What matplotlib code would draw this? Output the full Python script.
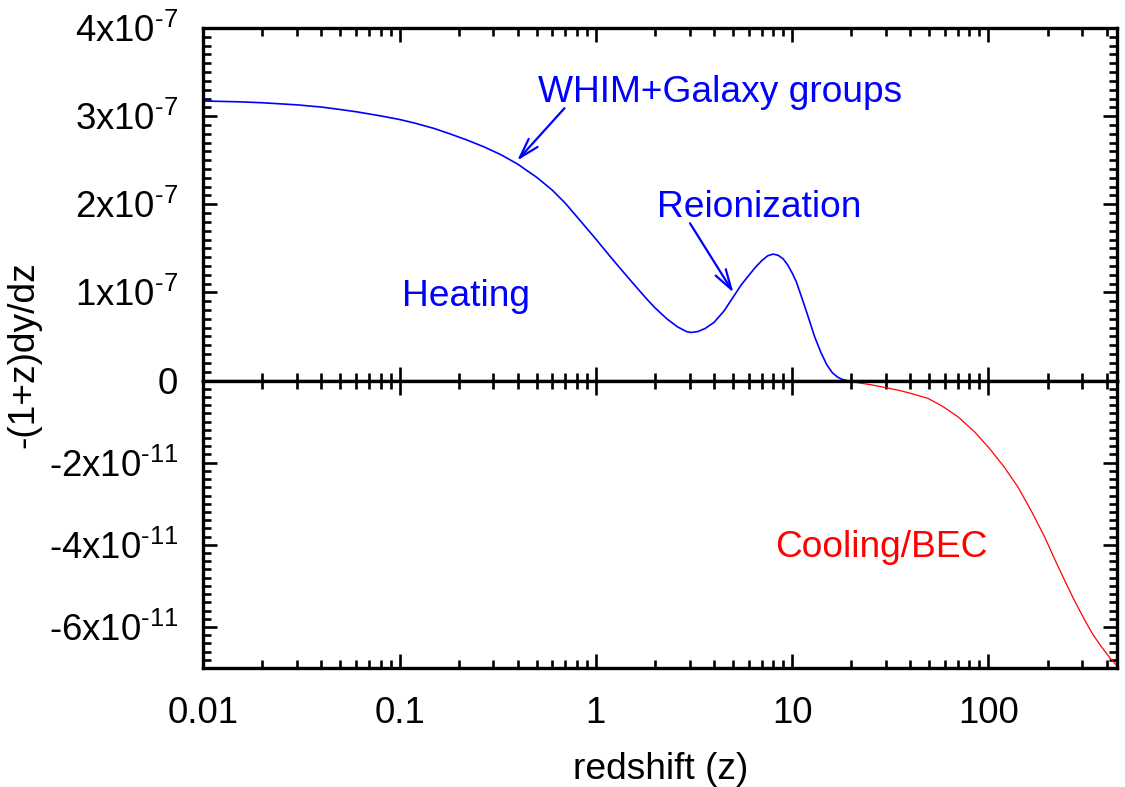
import matplotlib
matplotlib.use("Agg")
import matplotlib.pyplot as plt
from matplotlib.ticker import FixedLocator, FixedFormatter, MultipleLocator, LogLocator, NullFormatter

plt.rcParams['font.family'] = ['Liberation Sans', 'DejaVu Sans']
plt.rcParams['mathtext.fontset'] = 'custom'
plt.rcParams['mathtext.rm'] = 'Liberation Sans'
plt.rcParams['mathtext.it'] = 'Liberation Sans:italic'
plt.rcParams['mathtext.bf'] = 'Liberation Sans:bold'

# Heating branch: -(1+z) dy/dz > 0
z_heat = [0.01, 0.015, 0.02, 0.03, 0.04, 0.05, 0.06, 0.07, 0.08, 0.1, 0.12, 0.15,
          0.18, 0.22, 0.27, 0.33, 0.4, 0.5, 0.6, 0.7, 0.85, 1.0, 1.2, 1.4, 1.6,
          1.8, 2.0, 2.3, 2.6, 2.9, 3.05, 3.3, 3.6, 4.0, 4.5, 5.0, 5.5, 6.0, 6.5,
          7.0, 7.5, 8.0, 8.5, 9.0, 9.5, 10.0, 10.5, 11.0, 12.0, 13.0, 14.0, 15.0,
          16.0, 17.0, 18.0, 19.0]
y_heat = [3.172e-7, 3.163e-7, 3.152e-7, 3.128e-7, 3.103e-7, 3.075e-7, 3.050e-7,
          3.025e-7, 3.003e-7, 2.962e-7, 2.920e-7, 2.860e-7, 2.800e-7, 2.730e-7,
          2.650e-7, 2.560e-7, 2.455e-7, 2.305e-7, 2.160e-7, 2.010e-7, 1.790e-7,
          1.605e-7, 1.390e-7, 1.215e-7, 1.065e-7, 0.935e-7, 0.825e-7, 0.700e-7,
          0.610e-7, 0.555e-7, 0.545e-7, 0.555e-7, 0.590e-7, 0.660e-7, 0.790e-7,
          0.945e-7, 1.085e-7, 1.190e-7, 1.285e-7, 1.360e-7, 1.415e-7, 1.435e-7,
          1.420e-7, 1.380e-7, 1.310e-7, 1.220e-7, 1.120e-7, 0.990e-7, 0.740e-7,
          0.500e-7, 0.320e-7, 0.180e-7, 0.090e-7, 0.040e-7, 0.012e-7, 0.0]

# Cooling / BEC branch: -(1+z) dy/dz < 0
z_cool = [20.0, 25.0, 29.4, 35.0, 40.0, 49.1, 58.0, 69.8, 85.0, 101.0, 120.0,
          141.0, 165.0, 193.0, 215.0, 244.0, 275.0, 309.0, 340.0, 376.0, 415.0,
          457.0]
y_cool = [-0.03e-11, -0.10e-11, -0.166e-11, -0.24e-11, -0.31e-11, -0.434e-11,
          -0.62e-11, -0.88e-11, -1.25e-11, -1.65e-11, -2.10e-11, -2.586e-11,
          -3.17e-11, -3.80e-11, -4.30e-11, -4.86e-11, -5.37e-11, -5.83e-11,
          -6.18e-11, -6.48e-11, -6.75e-11, -6.97e-11]

x_ticks = [0.01, 0.1, 1, 10, 100]
x_tick_labels = ['0.01', '0.1', '1', '10', '100']
top_ticks = [0, 1e-7, 2e-7, 3e-7, 4e-7]
top_tick_labels = ['0', r'$\mathregular{1x10}^{\text{-7}}$', r'$\mathregular{2x10}^{\text{-7}}$',
                   r'$\mathregular{3x10}^{\text{-7}}$', r'$\mathregular{4x10}^{\text{-7}}$']
bot_ticks = [-6e-11, -4e-11, -2e-11, 0]
bot_tick_labels = [r'-$\mathregular{6x10}^{\text{-11}}$', r'-$\mathregular{4x10}^{\text{-11}}$',
                   r'-$\mathregular{2x10}^{\text{-11}}$', '']

FS = 26.7
BLUE = '#0000ff'
RED = '#ff0000'

fig = plt.figure(figsize=(11.25, 7.87), dpi=100)
ax_top = fig.add_axes([0.1807, 0.5165, 0.8119, 0.4479])
ax_bot = fig.add_axes([0.1807, 0.1512, 0.8119, 0.3653])

for ax in (ax_top, ax_bot):
    ax.set_xscale('log')
    ax.set_xlim(0.01, 450)
    for s in ax.spines.values():
        s.set_linewidth(2.4)
    ax.xaxis.set_major_locator(FixedLocator(x_ticks))
    ax.xaxis.set_minor_locator(LogLocator(base=10, subs=range(2, 10), numticks=20))
    ax.xaxis.set_minor_formatter(NullFormatter())
    ax.tick_params(which='both', direction='in', top=True, right=True,
                   width=1.9, labelsize=26.3)
    ax.tick_params(axis='x', pad=20)
    ax.tick_params(axis='y', pad=18)
    ax.tick_params(which='major', length=10)
    ax.tick_params(which='minor', length=5.5)

ax_top.plot(z_heat, y_heat, color=BLUE, lw=1.2)
ax_top.set_ylim(0, 4e-7)
ax_top.yaxis.set_major_locator(FixedLocator(top_ticks))
ax_top.yaxis.set_major_formatter(FixedFormatter(top_tick_labels))
ax_top.yaxis.set_minor_locator(MultipleLocator(1e-8))
ax_top.tick_params(labelbottom=False)

ax_bot.plot(z_cool, y_cool, color=RED, lw=0.9)
ax_bot.set_ylim(-7e-11, 0)
ax_bot.yaxis.set_major_locator(FixedLocator(bot_ticks))
ax_bot.yaxis.set_major_formatter(FixedFormatter(bot_tick_labels))
ax_bot.yaxis.set_minor_locator(MultipleLocator(2e-12))
ax_bot.xaxis.set_major_formatter(FixedFormatter(x_tick_labels))

# Annotations
ax_top.text(0.51, 3.157e-7, 'WHIM+Galaxy groups', color=BLUE, fontsize=FS,
            ha='left', va='baseline')
ax_top.text(2.06, 1.852e-7, 'Reionization', color=BLUE, fontsize=FS,
            ha='left', va='baseline')
ax_top.text(0.1028, 0.846e-7, 'Heating', color=BLUE, fontsize=FS,
            ha='left', va='baseline')
ax_bot.text(8.17, -4.29e-11, 'Cooling/BEC', color=RED, fontsize=FS,
            ha='left', va='baseline')

arrow_style = dict(arrowstyle='->,head_length=1.44,head_width=0.43',
                   mutation_scale=10, color=BLUE, lw=1.6, shrinkA=0, shrinkB=0)
ax_top.annotate('', xy=(0.397, 2.495e-7), xytext=(0.692, 3.090e-7),
                arrowprops=arrow_style)
ax_top.annotate('', xy=(5.02, 0.997e-7), xytext=(3.017, 1.784e-7),
                arrowprops=arrow_style)

fig.text(0.0213, 1 - 355 / 787, '-(1+z)dy/dz', rotation=90, fontsize=FS,
         ha='center', va='center')
fig.text(0.587, 1 - 779 / 787, 'redshift (z)', fontsize=FS,
         ha='center', va='baseline')

fig.savefig('out.png', dpi=100)
